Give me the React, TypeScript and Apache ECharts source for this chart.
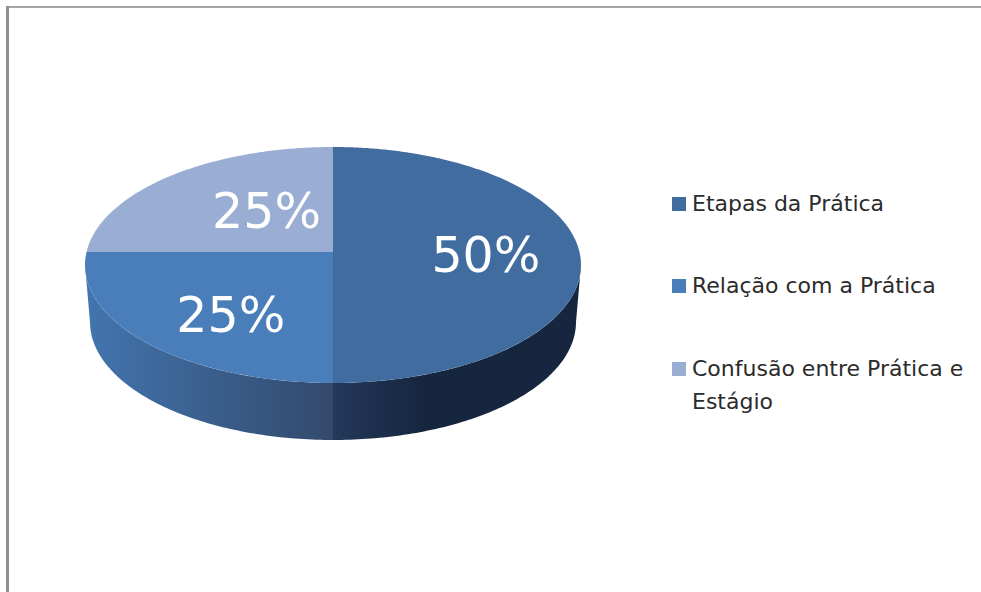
import React, { useEffect, useRef } from "react";
import * as echarts from "echarts";

const categories = ["Etapas da Prática", "Relação com a Prática", "Confusão entre Prática e\nEstágio"];
const shares = [50, 25, 25];
const labels = ["50%", "25%", "25%"];
const topColors = ["#416c9f", "#4a7ebb", "#9aadd3"];
const wallStops: [string, string][] = [
  ["#24385a", "#16263f"],
  ["#4275ae", "#33496c"],
  ["#9aadd3", "#9aadd3"],
];

const APEX = { x: 333, y: 252 };
const TOP = { cx: 333, cy: 265, rx: 248, ry: 118 };
const BASE = { cx: 333, cy: 322, rx: 243, ry: 118 };
const LABEL_FRACTION = 0.6;
const LABEL_SHIFT = [[5, 3], [-32, -7], [-9, 17]];
const LEGEND_Y = [204, 286, 369];

const total = shares.reduce((a, b) => a + b, 0);
const startAngle = (i: number) =>
  (shares.slice(0, i).reduce((a, b) => a + b, 0) / total) * 2 * Math.PI;

// Where a ray leaving the apex, clockwise from 12 o'clock, meets the top ellipse.
function rim(theta: number, k = 1): [number, number] {
  const dx = Math.sin(theta);
  const dy = -Math.cos(theta);
  const ox = APEX.x - TOP.cx;
  const oy = APEX.y - TOP.cy;
  const a = (dx * dx) / (TOP.rx * TOP.rx) + (dy * dy) / (TOP.ry * TOP.ry);
  const b = 2 * ((ox * dx) / (TOP.rx * TOP.rx) + (oy * dy) / (TOP.ry * TOP.ry));
  const c = (ox * ox) / (TOP.rx * TOP.rx) + (oy * oy) / (TOP.ry * TOP.ry) - 1;
  const t = (-b + Math.sqrt(b * b - 4 * a * c)) / (2 * a);
  return [APEX.x + k * t * dx, APEX.y + k * t * dy];
}

function wallPoints(from: number, to: number) {
  // from / to: ellipse parameters, clockwise from 12 o'clock, within [PI/2, 3PI/2]
  const steps = 90;
  const upper: number[][] = [];
  const lower: number[][] = [];
  for (let s = 0; s <= steps; s++) {
    const p = from + ((to - from) * s) / steps;
    upper.push([TOP.cx + TOP.rx * Math.sin(p), TOP.cy - TOP.ry * Math.cos(p)]);
    lower.push([BASE.cx + BASE.rx * Math.sin(p), BASE.cy - BASE.ry * Math.cos(p)]);
  }
  return upper.concat(lower.reverse());
}

function renderSlice(params: any, api: any) {
  const i = params.dataIndex;
  const a0 = startAngle(i);
  const a1 = a0 + (api.value(0) / total) * 2 * Math.PI;
  const children: any[] = [];

  const from = Math.max(a0, Math.PI / 2);
  const to = Math.min(a1, (3 * Math.PI) / 2);
  if (to > from) {
    const xs = [TOP.cx + TOP.rx * Math.sin(from), TOP.cx + TOP.rx * Math.sin(to)];
    const span = i === 0 ? 90 : 0;
    const fill = new echarts.graphic.LinearGradient(
      i === 0 ? TOP.cx : Math.min(...xs),
      0,
      i === 0 ? TOP.cx + span : TOP.cx,
      0,
      [
        { offset: 0, color: wallStops[i][0] },
        { offset: 1, color: wallStops[i][1] },
      ],
      true,
    );
    children.push({
      type: "polygon",
      z2: 1,
      shape: { points: wallPoints(from, to) },
      style: { fill },
    });
  }

  const pts: number[][] = [[APEX.x, APEX.y]];
  const steps = Math.max(60, Math.round((a1 - a0) * 60));
  for (let s = 0; s <= steps; s++) pts.push(rim(a0 + ((a1 - a0) * s) / steps));
  children.push({
    type: "polygon",
    z2: 5,
    shape: { points: pts },
    style: { fill: topColors[i] },
  });

  const [lx, ly] = rim((a0 + a1) / 2, LABEL_FRACTION);
  children.push({
    type: "text",
    z2: 10,
    style: {
      x: lx + LABEL_SHIFT[i][0],
      y: ly + LABEL_SHIFT[i][1],
      text: labels[i],
      fill: "#ffffff",
      font: '49px "DejaVu Sans"',
      align: "center",
      verticalAlign: "middle",
    },
  });
  return { type: "group", children };
}

export default function App() {
  const ref = useRef<HTMLDivElement>(null);
  useEffect(() => {
    document.body.style.margin = "0";
    document.body.style.overflow = "hidden";
    const chart = echarts.init(ref.current!, undefined, { renderer: "svg" });
    chart.setOption({
      animation: false,
      backgroundColor: "#ffffff",
      graphic: [
        { type: "rect", shape: { x: 6, y: 6, width: 975, height: 2 }, style: { fill: "#a6a6a6" } },
        { type: "rect", shape: { x: 6, y: 6, width: 3, height: 586 }, style: { fill: "#8f8f8f" } },
        ...categories.flatMap((name, i) => [
          {
            type: "rect",
            shape: { x: 672, y: LEGEND_Y[i] - 7, width: 14, height: 14 },
            style: { fill: topColors[i] },
          },
          {
            type: "text",
            x: 692,
            y: LEGEND_Y[i] - 17,
            style: {
              text: name,
              fill: "#2b2b2b",
              font: '22px "DejaVu Sans"',
              lineHeight: 33,
              verticalAlign: "top",
            },
          },
        ]),
      ],
      series: [
        {
          type: "custom",
          coordinateSystem: "none",
          renderItem: renderSlice,
          data: shares.map((v) => [v]),
          silent: true,
        },
      ],
    });
    return () => chart.dispose();
  }, []);
  return <div ref={ref} style={{ width: 981, height: 592 }} />;
}
